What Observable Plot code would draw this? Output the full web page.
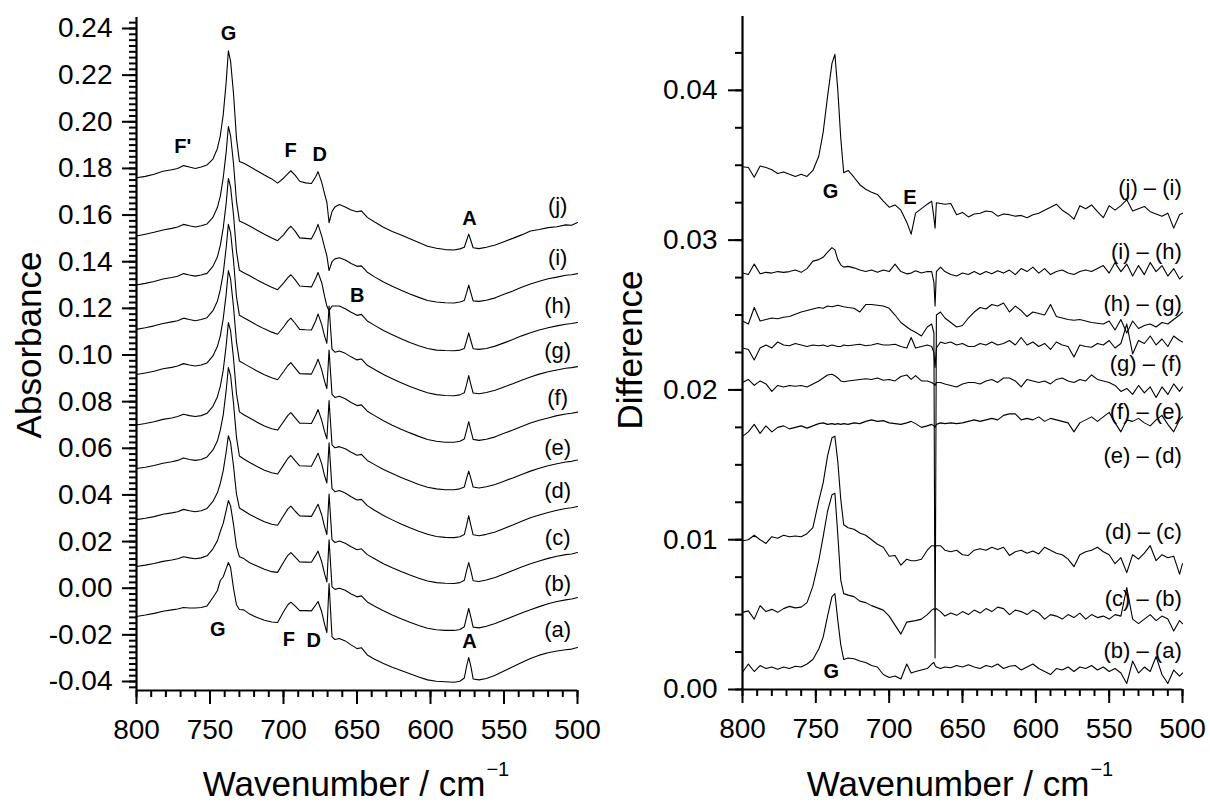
<!DOCTYPE html>
<html><head><meta charset="utf-8">
<script src="https://cdn.jsdelivr.net/npm/d3@7"></script>
<script src="https://cdn.jsdelivr.net/npm/@observablehq/plot@0.6"></script>
<style>
body{margin:0;background:#fff;font-family:"Liberation Sans",Arial,Helvetica,sans-serif;color:#000}
#wrap{position:relative;width:1210px;height:803px;overflow:hidden;background:#fff}
#left,#right{position:absolute;top:0}
#left{left:0}#right{left:605px}
.ylab{position:absolute;font-size:35px;line-height:35px;transform:translate(-50%,-50%) rotate(-90deg);white-space:nowrap}
.xlab{position:absolute;top:769px;font-size:35px;line-height:30px;transform:translateX(-50%);white-space:nowrap}
.sup{font-size:20px;position:relative;top:-20px;margin-left:1px}
</style></head><body>
<div id="wrap">
<div id="left"></div>
<div id="right"></div>
<div class="ylab" style="left:28px;top:345px">Absorbance</div>
<div class="ylab" style="left:629px;top:350px">Difference</div>
<div class="xlab" style="left:356px">Wavenumber / cm<span class="sup">−1</span></div>
<div class="xlab" style="left:960px">Wavenumber / cm<span class="sup">−1</span></div>
</div>
<script>
// ---------- Absorbance spectra (left panel) ----------
const wnAbs = [800,794,788,782,776,772,768,764,760,756,752,748,745,743,741,739,737.5,736,734,732,730,727,723,718,713,708,704,700,697,695,692,689,685,681,678,676.5,674,672,670.5,669,667,665,662,658,654,650,647,643,638,632,626,620,614,608,602,596,590,584,580,577,575.5,574,572.5,571,567,562,556,550,544,538,532,526,520,514,508,504,500];

const absA = [-0.0121,-0.0115,-0.0108,-0.0099,-0.0093,-0.0089,-0.0083,-0.0085,-0.0085,-0.0083,-0.0076,-0.0040,-0.0011,0.0033,0.0049,0.0084,0.0110,0.0089,-0.0001,-0.0071,-0.0091,-0.0093,-0.0111,-0.0126,-0.0137,-0.0145,-0.0147,-0.0101,-0.0071,-0.0060,-0.0077,-0.0096,-0.0096,-0.0097,-0.0071,-0.0057,-0.0101,-0.0156,-0.0190,0.0020,-0.0209,-0.0220,-0.0216,-0.0226,-0.0243,-0.0259,-0.0255,-0.0286,-0.0305,-0.0323,-0.0339,-0.0353,-0.0367,-0.0381,-0.0393,-0.0399,-0.0401,-0.0403,-0.0399,-0.0385,-0.0336,-0.0297,-0.0336,-0.0389,-0.0393,-0.0387,-0.0373,-0.0355,-0.0337,-0.0319,-0.0301,-0.0287,-0.0277,-0.0269,-0.0264,-0.0261,-0.0254];
const absB = [0.0093,0.0099,0.0106,0.0115,0.0121,0.0126,0.0135,0.0130,0.0126,0.0130,0.0139,0.0169,0.0203,0.0243,0.0278,0.0333,0.0376,0.0353,0.0273,0.0178,0.0135,0.0127,0.0109,0.0095,0.0081,0.0071,0.0068,0.0111,0.0141,0.0153,0.0133,0.0113,0.0112,0.0111,0.0142,0.0159,0.0113,0.0060,0.0027,0.0208,0.0006,-0.0005,0.0000,-0.0009,-0.0025,-0.0037,-0.0033,-0.0059,-0.0077,-0.0097,-0.0115,-0.0131,-0.0146,-0.0160,-0.0172,-0.0178,-0.0181,-0.0181,-0.0177,-0.0165,-0.0125,-0.0087,-0.0125,-0.0167,-0.0170,-0.0163,-0.0151,-0.0136,-0.0121,-0.0106,-0.0092,-0.0079,-0.0067,-0.0057,-0.0050,-0.0046,-0.0040];
const absC = [0.0294,0.0300,0.0307,0.0317,0.0323,0.0328,0.0338,0.0332,0.0328,0.0332,0.0342,0.0372,0.0409,0.0449,0.0504,0.0584,0.0654,0.0624,0.0524,0.0404,0.0344,0.0332,0.0316,0.0300,0.0285,0.0274,0.0270,0.0311,0.0340,0.0352,0.0330,0.0310,0.0309,0.0308,0.0342,0.0360,0.0314,0.0262,0.0230,0.0404,0.0208,0.0196,0.0202,0.0193,0.0178,0.0165,0.0169,0.0144,0.0126,0.0105,0.0088,0.0072,0.0057,0.0043,0.0031,0.0024,0.0021,0.0020,0.0024,0.0034,0.0074,0.0110,0.0074,0.0032,0.0029,0.0035,0.0046,0.0061,0.0076,0.0091,0.0105,0.0117,0.0128,0.0137,0.0144,0.0147,0.0153];
const absD = [0.0513,0.0519,0.0526,0.0536,0.0542,0.0548,0.0558,0.0552,0.0548,0.0552,0.0563,0.0593,0.0631,0.0678,0.0743,0.0848,0.0946,0.0913,0.0793,0.0648,0.0567,0.0554,0.0539,0.0522,0.0506,0.0495,0.0490,0.0528,0.0557,0.0569,0.0546,0.0525,0.0524,0.0523,0.0559,0.0579,0.0533,0.0481,0.0451,0.0623,0.0427,0.0414,0.0419,0.0408,0.0392,0.0378,0.0381,0.0354,0.0334,0.0312,0.0293,0.0275,0.0259,0.0244,0.0231,0.0222,0.0218,0.0217,0.0221,0.0230,0.0268,0.0311,0.0268,0.0229,0.0225,0.0231,0.0241,0.0256,0.0271,0.0287,0.0302,0.0314,0.0325,0.0334,0.0342,0.0345,0.0350];
const absE = [0.0700,0.0706,0.0714,0.0724,0.0730,0.0736,0.0746,0.0740,0.0736,0.0740,0.0750,0.0780,0.0820,0.0865,0.0935,0.1040,0.1139,0.1105,0.0985,0.0835,0.0756,0.0744,0.0730,0.0712,0.0696,0.0684,0.0678,0.0714,0.0741,0.0753,0.0730,0.0708,0.0707,0.0706,0.0744,0.0766,0.0720,0.0670,0.0640,0.0805,0.0615,0.0602,0.0607,0.0598,0.0583,0.0570,0.0574,0.0548,0.0530,0.0509,0.0492,0.0475,0.0460,0.0445,0.0433,0.0426,0.0422,0.0422,0.0426,0.0434,0.0470,0.0502,0.0470,0.0434,0.0430,0.0435,0.0445,0.0459,0.0473,0.0488,0.0502,0.0514,0.0525,0.0534,0.0541,0.0544,0.0550];
const absF = [0.0916,0.0923,0.0930,0.0941,0.0947,0.0953,0.0963,0.0957,0.0953,0.0957,0.0966,0.0996,0.1036,0.1081,0.1156,0.1261,0.1362,0.1326,0.1206,0.1056,0.0974,0.0963,0.0949,0.0931,0.0915,0.0902,0.0894,0.0928,0.0955,0.0967,0.0944,0.0920,0.0919,0.0918,0.0958,0.0982,0.0936,0.0886,0.0856,0.1021,0.0831,0.0818,0.0823,0.0812,0.0796,0.0783,0.0786,0.0759,0.0740,0.0718,0.0699,0.0682,0.0666,0.0651,0.0638,0.0630,0.0626,0.0626,0.0630,0.0640,0.0676,0.0714,0.0676,0.0638,0.0634,0.0639,0.0649,0.0664,0.0678,0.0693,0.0708,0.0720,0.0730,0.0740,0.0747,0.0750,0.0755];
const absG = [0.1110,0.1117,0.1125,0.1135,0.1142,0.1147,0.1158,0.1152,0.1147,0.1152,0.1160,0.1190,0.1230,0.1280,0.1350,0.1460,0.1560,0.1525,0.1405,0.1250,0.1170,0.1160,0.1146,0.1128,0.1112,0.1098,0.1089,0.1120,0.1146,0.1158,0.1135,0.1110,0.1108,0.1107,0.1148,0.1176,0.1130,0.1080,0.1050,0.1210,0.1025,0.1012,0.1017,0.1007,0.0992,0.0979,0.0983,0.0956,0.0938,0.0916,0.0898,0.0881,0.0865,0.0851,0.0838,0.0830,0.0826,0.0825,0.0829,0.0838,0.0872,0.0912,0.0872,0.0837,0.0834,0.0839,0.0849,0.0863,0.0877,0.0892,0.0906,0.0918,0.0928,0.0936,0.0943,0.0946,0.0950];
const absH = [0.1300,0.1307,0.1315,0.1326,0.1332,0.1338,0.1349,0.1343,0.1338,0.1343,0.1350,0.1380,0.1420,0.1470,0.1545,0.1650,0.1757,0.1720,0.1600,0.1445,0.1363,0.1353,0.1340,0.1322,0.1305,0.1290,0.1280,0.1308,0.1332,0.1344,0.1322,0.1296,0.1294,0.1292,0.1330,0.1354,0.1310,0.1250,0.1210,0.1190,0.1210,0.1210,0.1210,0.1198,0.1183,0.1170,0.1174,0.1146,0.1127,0.1105,0.1087,0.1070,0.1054,0.1040,0.1028,0.1021,0.1019,0.1018,0.1021,0.1028,0.1060,0.1095,0.1060,0.1027,0.1024,0.1028,0.1038,0.1052,0.1066,0.1082,0.1095,0.1107,0.1117,0.1125,0.1132,0.1135,0.1139];
const absI = [0.1510,0.1518,0.1526,0.1536,0.1543,0.1549,0.1560,0.1554,0.1549,0.1554,0.1562,0.1590,0.1632,0.1680,0.1760,0.1870,0.1980,0.1940,0.1820,0.1660,0.1575,0.1566,0.1553,0.1535,0.1518,0.1502,0.1490,0.1515,0.1540,0.1552,0.1530,0.1502,0.1500,0.1498,0.1535,0.1560,0.1510,0.1460,0.1425,0.1362,0.1400,0.1412,0.1417,0.1407,0.1392,0.1380,0.1382,0.1355,0.1335,0.1313,0.1295,0.1278,0.1262,0.1247,0.1234,0.1227,0.1224,0.1223,0.1227,0.1234,0.1265,0.1300,0.1265,0.1232,0.1230,0.1235,0.1245,0.1260,0.1274,0.1290,0.1304,0.1316,0.1327,0.1334,0.1342,0.1344,0.1349];
const absJ = [0.1760,0.1766,0.1775,0.1788,0.1794,0.1800,0.1812,0.1806,0.1800,0.1806,0.1815,0.1840,0.1885,0.1940,0.2030,0.2170,0.2304,0.2260,0.2120,0.1930,0.1830,0.1822,0.1808,0.1790,0.1772,0.1755,0.1737,0.1758,0.1778,0.1790,0.1770,0.1745,0.1738,0.1735,0.1765,0.1786,0.1740,0.1690,0.1655,0.1567,0.1615,0.1635,0.1645,0.1635,0.1622,0.1614,0.1618,0.1590,0.1570,0.1548,0.1530,0.1514,0.1498,0.1482,0.1466,0.1458,0.1452,0.1450,0.1455,0.1462,0.1490,0.1518,0.1490,0.1460,0.1456,0.1462,0.1472,0.1486,0.1500,0.1515,0.1532,0.1538,0.1546,0.1550,0.1558,0.1556,0.1568];

const absNames = ["(a)","(b)","(c)","(d)","(e)","(f)","(g)","(h)","(i)","(j)"];
const absLabelW = [513.5,513.5,513.5,513.5,513.5,513.5,513.5,513.5,513.5,513.5];
const absLabelV = [-0.0181,0.0020,0.0217,0.0419,0.0603,0.0817,0.1019,0.1212,0.1417,0.1640];

const annLeftText = ["G","F'","F","D","B","A","G","F","D","A"];
const annLeftW = [737.4,768.5,695.2,675.3,649.9,573.5,744.7,696.4,679.4,573.5];
const annLeftV = [0.2378,0.1893,0.1876,0.1859,0.1254,0.1584,-0.0178,-0.0221,-0.0224,-0.0227];

// ---------- Difference spectra (right panel) ----------
const wnDiff = [800,796,792,788,784,780,776,772,768,764,760,756,752,748,745,742,739,737,735,733,731,728,724,720,716,712,708,704,700,696,692,688,685,682,678,674,671,669.5,668.7,667.8,665,662,658,654,650,646,642,638,634,630,626,622,618,614,610,606,602,598,594,590,586,582,578,574,570,566,562,558,554,550,546,542,538,534,530,526,522,518,514,510,506,502,500];

const diffBA = [0.00115,0.00170,0.00120,0.00160,0.00140,0.00150,0.00135,0.00150,0.00140,0.00155,0.00150,0.00170,0.00200,0.00270,0.00350,0.00490,0.00620,0.00640,0.00460,0.00300,0.00200,0.00210,0.00205,0.00190,0.00180,0.00160,0.00150,0.00100,0.00080,0.00090,0.00070,0.00170,0.00110,0.00120,0.00130,0.00140,0.00170,0.00180,0.00160,0.00150,0.00140,0.00150,0.00145,0.00160,0.00150,0.00165,0.00150,0.00140,0.00160,0.00150,0.00170,0.00140,0.00155,0.00160,0.00130,0.00150,0.00170,0.00140,0.00120,0.00100,0.00140,0.00130,0.00150,0.00120,0.00150,0.00140,0.00160,0.00130,0.00150,0.00120,0.00140,0.00110,0.00040,0.00190,0.00110,0.00150,0.00120,0.00220,0.00100,0.00040,0.00130,0.00090,0.00110];
const diffCB = [0.00515,0.00525,0.00470,0.00560,0.00520,0.00535,0.00515,0.00540,0.00555,0.00545,0.00550,0.00580,0.00690,0.00860,0.01020,0.01190,0.01300,0.01310,0.01030,0.00730,0.00640,0.00630,0.00620,0.00590,0.00580,0.00560,0.00545,0.00530,0.00490,0.00430,0.00370,0.00450,0.00455,0.00460,0.00470,0.00500,0.00530,0.00540,0.00530,0.00540,0.00520,0.00490,0.00510,0.00495,0.00520,0.00500,0.00530,0.00510,0.00540,0.00520,0.00550,0.00540,0.00500,0.00530,0.00520,0.00500,0.00530,0.00510,0.00470,0.00500,0.00490,0.00470,0.00500,0.00480,0.00510,0.00470,0.00500,0.00480,0.00490,0.00470,0.00500,0.00490,0.00680,0.00470,0.00440,0.00470,0.00500,0.00460,0.00490,0.00470,0.00390,0.00460,0.00440];
const diffDC = [0.00993,0.01000,0.01030,0.01000,0.00975,0.01020,0.01010,0.01030,0.01020,0.01025,0.01020,0.01040,0.01080,0.01260,0.01380,0.01560,0.01680,0.01690,0.01520,0.01270,0.01100,0.01080,0.01070,0.01045,0.01030,0.01000,0.00970,0.00950,0.00890,0.00895,0.00830,0.00870,0.00860,0.00860,0.00870,0.00930,0.00960,0.00960,0.00950,0.00960,0.00960,0.00930,0.00920,0.00930,0.00900,0.00895,0.00930,0.00940,0.00930,0.00950,0.00935,0.00950,0.00895,0.00920,0.00930,0.00910,0.00925,0.00905,0.00950,0.00930,0.00910,0.00900,0.00870,0.00820,0.00900,0.00920,0.00930,0.00950,0.00920,0.00900,0.00840,0.00880,0.00780,0.00900,0.00870,0.00910,0.00960,0.00860,0.00900,0.00880,0.00890,0.00770,0.00840];
const diffED = [0.01690,0.01720,0.01770,0.01710,0.01760,0.01720,0.01750,0.01760,0.01740,0.01750,0.01760,0.01745,0.01760,0.01775,0.01780,0.01770,0.01775,0.01770,0.01775,0.01770,0.01775,0.01770,0.01780,0.01775,0.01790,0.01800,0.01790,0.01795,0.01780,0.01775,0.01770,0.01780,0.01790,0.01775,0.01750,0.01760,0.01770,0.01760,0.01750,0.01770,0.01780,0.01775,0.01780,0.01775,0.01780,0.01790,0.01800,0.01790,0.01800,0.01810,0.01800,0.01830,0.01840,0.01840,0.01800,0.01810,0.01800,0.01820,0.01790,0.01810,0.01800,0.01790,0.01780,0.01720,0.01780,0.01800,0.01820,0.01790,0.01820,0.01850,0.01780,0.01720,0.01800,0.01790,0.01810,0.01780,0.01760,0.01800,0.01830,0.01770,0.01720,0.01800,0.01820];
const diffFE = [0.02050,0.02070,0.02030,0.02060,0.02040,0.01990,0.02030,0.02020,0.02030,0.02025,0.02030,0.02020,0.02040,0.02060,0.02080,0.02100,0.02105,0.02095,0.02080,0.02060,0.02055,0.02060,0.02065,0.02070,0.02075,0.02070,0.02080,0.02065,0.02070,0.02060,0.02090,0.02100,0.02070,0.02095,0.02060,0.02060,0.02050,0.02040,0.02030,0.02050,0.02050,0.02040,0.02030,0.02020,0.02040,0.02050,0.02050,0.02040,0.02060,0.02070,0.02050,0.02080,0.02080,0.02060,0.02020,0.02070,0.02060,0.02050,0.02060,0.02040,0.02070,0.02080,0.02060,0.02050,0.02070,0.02060,0.02100,0.02070,0.02060,0.02050,0.02030,0.01990,0.02010,0.01970,0.02030,0.01980,0.02020,0.01950,0.02020,0.01970,0.02040,0.01990,0.02020];
const diffGF = [0.02280,0.02270,0.02200,0.02280,0.02300,0.02280,0.02320,0.02300,0.02295,0.02310,0.02300,0.02290,0.02300,0.02295,0.02300,0.02290,0.02300,0.02295,0.02290,0.02290,0.02300,0.02295,0.02300,0.02305,0.02295,0.02300,0.02310,0.02300,0.02300,0.02305,0.02290,0.02280,0.02350,0.02280,0.02290,0.02300,0.02290,0.02250,0.02150,0.02280,0.02320,0.02310,0.02320,0.02300,0.02310,0.02290,0.02290,0.02310,0.02300,0.02320,0.02300,0.02310,0.02330,0.02300,0.02350,0.02300,0.02320,0.02290,0.02310,0.02270,0.02320,0.02300,0.02290,0.02220,0.02300,0.02290,0.02285,0.02310,0.02300,0.02330,0.02280,0.02310,0.02440,0.02240,0.02330,0.02310,0.02360,0.02300,0.02340,0.02290,0.02360,0.02330,0.02320];
const diffHG = [0.02460,0.02440,0.02550,0.02460,0.02470,0.02480,0.02475,0.02485,0.02490,0.02505,0.02520,0.02530,0.02540,0.02550,0.02545,0.02560,0.02555,0.02560,0.02565,0.02560,0.02555,0.02550,0.02545,0.02520,0.02570,0.02570,0.02565,0.02560,0.02545,0.02500,0.02450,0.02420,0.02400,0.02385,0.02360,0.02420,0.02440,0.02380,0.00210,0.02500,0.02520,0.02480,0.02450,0.02420,0.02430,0.02480,0.02520,0.02550,0.02540,0.02570,0.02560,0.02580,0.02520,0.02560,0.02530,0.02490,0.02520,0.02510,0.02500,0.02570,0.02490,0.02480,0.02470,0.02465,0.02470,0.02460,0.02450,0.02445,0.02440,0.02460,0.02400,0.02470,0.02380,0.02460,0.02410,0.02430,0.02440,0.02420,0.02450,0.02440,0.02470,0.02500,0.02520];
const diffIH = [0.02780,0.02770,0.02840,0.02775,0.02785,0.02780,0.02790,0.02785,0.02790,0.02800,0.02785,0.02810,0.02860,0.02870,0.02885,0.02920,0.02950,0.02935,0.02870,0.02835,0.02820,0.02825,0.02815,0.02800,0.02790,0.02800,0.02785,0.02800,0.02790,0.02840,0.02790,0.02775,0.02780,0.02795,0.02780,0.02790,0.02790,0.02720,0.02560,0.02790,0.02820,0.02790,0.02770,0.02760,0.02780,0.02770,0.02790,0.02770,0.02790,0.02775,0.02795,0.02780,0.02800,0.02770,0.02810,0.02790,0.02820,0.02780,0.02810,0.02770,0.02790,0.02800,0.02780,0.02770,0.02790,0.02800,0.02790,0.02810,0.02830,0.02780,0.02850,0.02790,0.02840,0.02760,0.02830,0.02770,0.02850,0.02790,0.02830,0.02760,0.02810,0.02740,0.02760];
const diffJI = [0.03490,0.03485,0.03420,0.03495,0.03485,0.03470,0.03445,0.03455,0.03440,0.03425,0.03440,0.03425,0.03465,0.03560,0.03720,0.03960,0.04180,0.04240,0.04000,0.03680,0.03450,0.03465,0.03420,0.03370,0.03340,0.03320,0.03305,0.03260,0.03220,0.03235,0.03200,0.03120,0.03040,0.03180,0.03210,0.03240,0.03260,0.03150,0.03080,0.03250,0.03245,0.03240,0.03245,0.03170,0.03185,0.03155,0.03175,0.03180,0.03195,0.03190,0.03160,0.03175,0.03170,0.03160,0.03165,0.03150,0.03170,0.03180,0.03200,0.03220,0.03240,0.03200,0.03175,0.03140,0.03230,0.03210,0.03235,0.03190,0.03150,0.03230,0.03200,0.03230,0.03270,0.03195,0.03210,0.03225,0.03190,0.03175,0.03160,0.03180,0.03080,0.03170,0.03180];

const diffNames = ["(b) – (a)","(c) – (b)","(d) – (c)","(e) – (d)","(f) – (e)","(g) – (f)","(h) – (g)","(i) – (h)","(j) – (i)"];
const diffLabelW = [500.5,500.5,500.5,500.5,500.5,500.5,500.5,500.5,500.5];
const diffLabelV = [0.0026,0.00607,0.01053,0.0156,0.01853,0.02173,0.02573,0.0292,0.03347];

const annRightText = ["G","E","G"];
const annRightW = [740,685.9,739.5];
const annRightV = [0.03327,0.03287,0.00122];

// ---------- ticks ----------
const xMajor = [800,750,700,650,600,550,500];
const xMinor = d3.range(500, 801, 10);
const yMajorAbs = [-0.04,-0.02,0.00,0.02,0.04,0.06,0.08,0.10,0.12,0.14,0.16,0.18,0.20,0.22,0.24];
const yMinorAbs = d3.range(115).map(i => -0.0425 + 0.0025 * i);
const yMajorDiff = [0.00,0.01,0.02,0.03,0.04];
const yMinorDiff = d3.range(18).map(i => 0.0025 * i);

// ---------- build tables ----------
const absList = [absA,absB,absC,absD,absE,absF,absG,absH,absI,absJ];
const absData = absList.flatMap((vals, s) => vals.map((v, i) => ({w: wnAbs[i], v, k: absNames[s]})));
const diffList = [diffBA,diffCB,diffDC,diffED,diffFE,diffGF,diffHG,diffIH,diffJI];
const diffData = diffList.flatMap((vals, s) => vals.map((v, i) => ({w: wnDiff[i], v, k: diffNames[s]})));

const font = "'Liberation Sans', Arial, Helvetica, sans-serif";
const tickFont = 28;

function axisMarks(xMaj, xMin, yMaj, yMin, yBottom, padY) {
  return [
    Plot.axisY(yMin, {tickSize: 7, strokeWidth: 2, tickFormat: () => "", label: null}),
    Plot.axisY(yMaj, {tickSize: 14, strokeWidth: 2, tickPadding: padY, fontSize: tickFont, tickFormat: d => d.toFixed(2), label: null}),
    Plot.axisX(xMin, {tickSize: 7, strokeWidth: 2, tickFormat: () => "", label: null}),
    Plot.axisX(xMaj, {tickSize: 14, strokeWidth: 2, tickPadding: 15, fontSize: tickFont, tickFormat: d => String(d), label: null}),
    Plot.ruleX([800], {strokeWidth: 2.2, stroke: "#000"}),
    Plot.ruleY([yBottom], {strokeWidth: 2.2, stroke: "#000"})
  ];
}

const yDomAbs = [-0.04386, 0.24471];
const left = Plot.plot({
  width: 605, height: 803,
  marginLeft: 136, marginRight: 28, marginTop: 17, marginBottom: 113,
  style: {fontFamily: font, color: "#000", background: "transparent", overflow: "visible"},
  x: {domain: [800, 500]},
  y: {domain: yDomAbs},
  marks: [
    ...axisMarks(xMajor, xMinor, yMajorAbs, yMinorAbs, yDomAbs[0], 10),
    Plot.line(absData, {x: "w", y: "v", z: "k", stroke: "#000", strokeWidth: 1.1}),
    Plot.text(absNames, {x: (d, i) => absLabelW[i], y: (d, i) => absLabelV[i], text: d => d, fontSize: 22, fill: "#000"}),
    Plot.text(annLeftText, {x: (d, i) => annLeftW[i], y: (d, i) => annLeftV[i], text: d => d, fontSize: 20, fontWeight: "bold", fill: "#000"})
  ]
});
document.getElementById("left").appendChild(left);

const yDomDiff = [0, 0.04493];
const right = Plot.plot({
  width: 605, height: 803,
  marginLeft: 137, marginRight: 28, marginTop: 16, marginBottom: 114,
  style: {fontFamily: font, color: "#000", background: "transparent", overflow: "visible"},
  x: {domain: [800, 500]},
  y: {domain: yDomDiff},
  marks: [
    ...axisMarks(xMajor, xMinor, yMajorDiff, yMinorDiff, yDomDiff[0], 11),
    Plot.line(diffData, {x: "w", y: "v", z: "k", stroke: "#000", strokeWidth: 1.1}),
    Plot.text(diffNames, {x: (d, i) => diffLabelW[i], y: (d, i) => diffLabelV[i], text: d => d, textAnchor: "end", fontSize: 22, fill: "#000"}),
    Plot.text(annRightText, {x: (d, i) => annRightW[i], y: (d, i) => annRightV[i], text: d => d, fontSize: 20, fontWeight: "bold", fill: "#000"})
  ]
});
document.getElementById("right").appendChild(right);
</script>
</body></html>
